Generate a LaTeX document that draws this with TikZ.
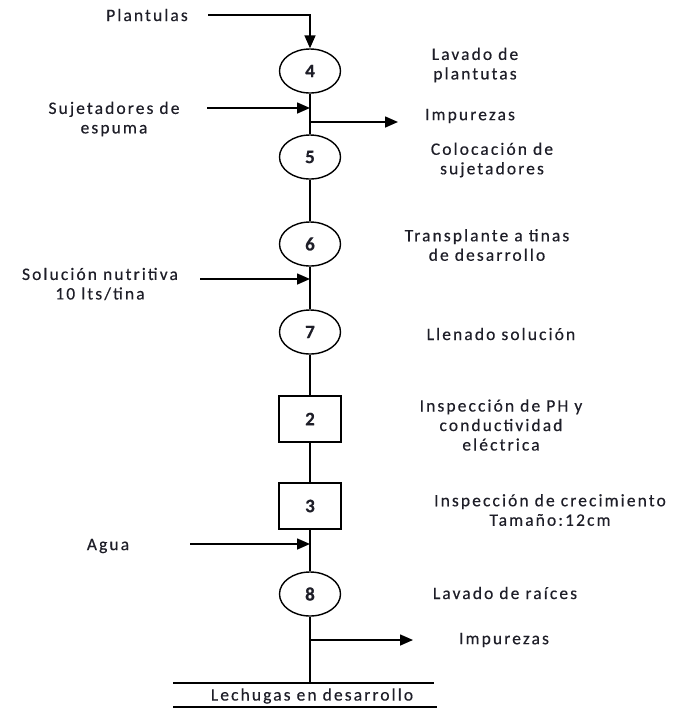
\documentclass[tikz,border=0pt]{standalone}
\usepackage{fontspec}
\setmainfont{Carlito}[LetterSpace=12,FakeBold=0.4]
\usetikzlibrary{arrows.meta,shapes.geometric}
\definecolor{txt}{HTML}{1E1E28}
\tikzset{
  lbl/.style={text=txt,font=\fontsize{17.5}{19.5}\selectfont,align=center,inner sep=0pt},
  opcirc/.style={draw,line width=1.4pt,ellipse,minimum width=61pt,minimum height=44pt,inner sep=0pt,text=txt,font=\fontsize{19}{19}\selectfont\bfseries},
  opbox/.style={draw,line width=1.4pt,rectangle,minimum width=62pt,minimum height=46pt,inner sep=0pt,text=txt,font=\fontsize{19}{19}\selectfont\bfseries},
  flow/.style={line width=1.7pt},
  arr/.style={line width=1.6pt,-{Triangle[length=13pt,width=11pt]}},
}
\begin{document}
\begin{tikzpicture}[x=1pt,y=-1pt]
\useasboundingbox (0,0) rectangle (674,716);
% operations
\node[opcirc] (c4) at (310,71) {4};
\node[opcirc] (c5) at (310,157) {5};
\node[opcirc] (c6) at (310,244) {6};
\node[opcirc] (c7) at (310,332) {7};
\node[opbox] (b2) at (310,419) {2};
\node[opbox] (b3) at (310,506) {3};
\node[opcirc] (c8) at (310,594) {8};
% junctions
\coordinate (top) at (310,15);
\coordinate (pstart) at (208,15);
\coordinate (j1) at (310,108);
\coordinate (j2) at (310,122);
\coordinate (j3) at (310,279);
\coordinate (j4) at (310,544);
\coordinate (j5) at (310,640);
\coordinate (bot) at (310,683);
\coordinate (s1) at (207,108);
\coordinate (s3) at (200,279);
\coordinate (s4) at (190,544);
\coordinate (e2) at (398,122);
\coordinate (e5) at (413,640);
% main line
\draw[flow] (c4) -- (c5);
\draw[flow] (c5) -- (c6);
\draw[flow] (c6) -- (c7);
\draw[flow] (c7) -- (b2);
\draw[flow] (b2) -- (b3);
\draw[flow] (b3) -- (c8);
\draw[flow] (c8) -- (bot);
% inputs / outputs
\draw[arr] (pstart) -- (top) -- (c4);
\draw[arr] (s1) -- (j1);
\draw[arr] (j2) -- (e2);
\draw[arr] (s3) -- (j3);
\draw[arr] (s4) -- (j4);
\draw[arr] (j5) -- (e5);
% storage lines
\coordinate (l1a) at (173,683);
\coordinate (l1b) at (434,683);
\coordinate (l2a) at (173,707);
\coordinate (l2b) at (437,707);
\draw[line width=1.4pt] (l1a) -- (l1b);
\draw[line width=1.4pt] (l2a) -- (l2b);
\node[lbl] (store) at (312,696) {Lechugas en desarrollo};
% left labels
\node[lbl] (lplant) at (147,15) {Plantulas};
\node[lbl] (lsuj) at (114,119) {Sujetadores de\\espuma};
\node[lbl] (lsol) at (100,284) {Solución nutritiva\\10 lts/tina};
\node[lbl] (lagua) at (108,546) {Agua};
% right labels
\node[lbl] (r4) at (475,65) {Lavado de\\plantutas};
\node[lbl] (rimp1) at (470,116) {Impurezas};
\node[lbl] (r5) at (492,160) {Colocación de\\sujetadores};
\node[lbl] (r6) at (487,245) {Transplante a tinas\\de desarrollo};
\node[lbl] (r7) at (501,334) {Llenado solución};
\node[lbl] (r2) at (501,425) {Inspección de PH y\\conductividad\\eléctrica};
\node[lbl] (r3) at (550,510) {Inspección de crecimiento\\Tamaño:12cm};
\node[lbl] (r8) at (505,593) {Lavado de raíces};
\node[lbl] (rimp2) at (504,640) {Impurezas};
\end{tikzpicture}
\end{document}
